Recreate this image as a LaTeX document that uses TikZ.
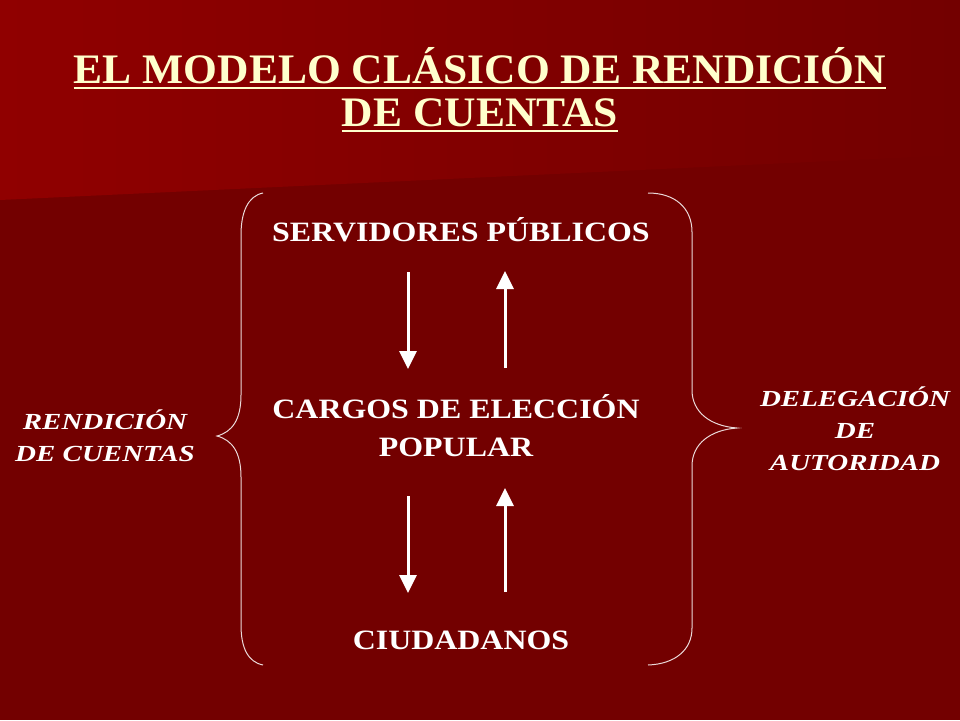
\documentclass[tikz,border=0pt]{standalone}
\usepackage{fontspec}
\setmainfont{Liberation Serif}
\usetikzlibrary{arrows.meta}
\definecolor{slidebg}{HTML}{730000}
\definecolor{slidetop}{HTML}{900000}
\definecolor{titlecol}{HTML}{FFFFCC}
\tikzset{
  bodytext/.style={text=white,font=\fontsize{28}{38}\selectfont\bfseries,align=center,xscale=1.14,anchor=base,inner sep=0pt},
  sidetext/.style={text=white,font=\fontsize{23}{32}\selectfont\bfseries\itshape,align=center,xscale=1.26,anchor=base,inner sep=0pt},
  titletext/.style={text=titlecol,font=\fontsize{42}{43}\selectfont\bfseries,xscale=1.036,anchor=base,inner sep=0pt},
  flow/.style={white,line width=3pt,-{Triangle[width=17pt,length=18pt]}},
  brace/.style={white!85!slidebg,line width=1pt}
}
\begin{document}
\begin{tikzpicture}[x=1pt,y=-1pt]
\useasboundingbox (0,0) rectangle (960,720);
\fill[slidebg] (0,0) rectangle (960,720);
\shade[left color=slidetop,right color=slidebg] (0,0) -- (960,0) -- (960,155) -- (0,200) -- cycle;

\node[titletext] (title1) at (480,83) {EL MODELO CLÁSICO DE RENDICIÓN};
\node[titletext] (title2) at (480,126) {DE CUENTAS};
\draw[titlecol,line width=2pt] ([yshift=-5pt]title1.base west) -- ([yshift=-5pt]title1.base east);
\draw[titlecol,line width=2pt] ([yshift=-5pt]title2.base west) -- ([yshift=-5pt]title2.base east);

\node[bodytext] (serv) at (461,241) {SERVIDORES PÚBLICOS};
\node[bodytext] (carg) at (456,456) {CARGOS DE ELECCIÓN\\POPULAR};
\node[bodytext] (ciud) at (461,649) {CIUDADANOS};

\node[sidetext] (rend) at (105,461) {RENDICIÓN\\DE CUENTAS};
\node[sidetext] (dele) at (855,470) {DELEGACIÓN\\DE\\AUTORIDAD};

\draw[flow] (408,272) -- (408,369);
\draw[flow] (505,368) -- (505,271);
\draw[flow] (408,496) -- (408,593);
\draw[flow] (505,592) -- (505,488);

\draw[brace] (263,193) .. controls (248,196) and (241,212) .. (241,235)
  -- (241,395) .. controls (241,420) and (232,432) .. (217,436)
  .. controls (232,440) and (241,452) .. (241,477)
  -- (241,625) .. controls (241,648) and (248,662) .. (263,665);
\draw[brace] (648,193) .. controls (675,193) and (692,208) .. (692,232)
  -- (692,390) .. controls (692,412) and (710,426) .. (737,428)
  .. controls (710,430) and (692,444) .. (692,466)
  -- (692,628) .. controls (692,650) and (675,664) .. (648,665);
\end{tikzpicture}
\end{document}
